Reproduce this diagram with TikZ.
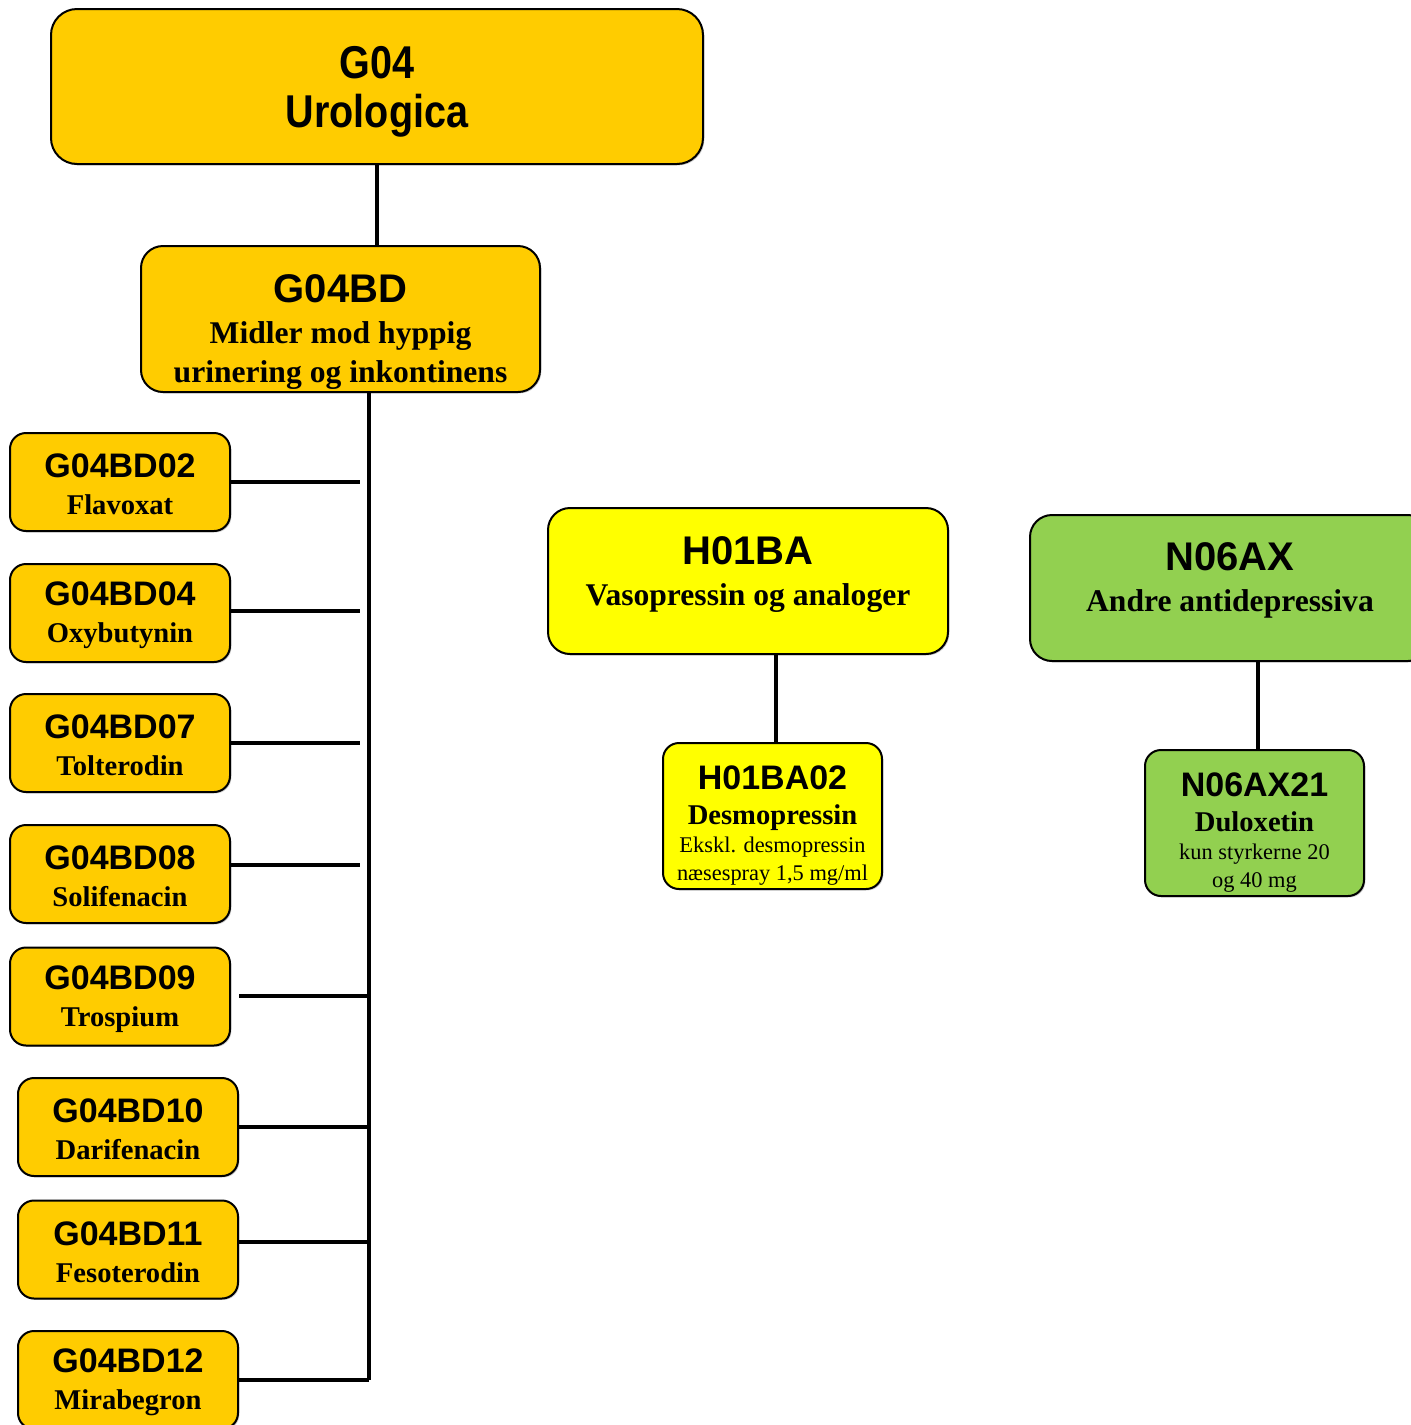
\documentclass[tikz,border=0pt]{standalone}
\usepackage{fontspec}
\setmainfont{Liberation Serif}
\setsansfont{Liberation Sans}
\newfontfamily\narrowsans[FakeStretch=0.86]{Liberation Sans}
\usetikzlibrary{shadows}

\definecolor{atcgold}{HTML}{FFCC00}
\definecolor{atcyellow}{HTML}{FFFF00}
\definecolor{atcgreen}{HTML}{92D050}

\newcommand{\topfont}{\narrowsans\bfseries\fontsize{23pt}{24.5pt}\selectfont}
\newcommand{\groupfont}{\sffamily\bfseries\fontsize{20pt}{21pt}\selectfont}
\newcommand{\groupname}{\rmfamily\bfseries\fontsize{15.8pt}{19.5pt}\selectfont}
\newcommand{\codefont}{\sffamily\bfseries\fontsize{17pt}{18.5pt}\selectfont}
\newcommand{\namefont}{\rmfamily\bfseries\fontsize{14.3pt}{18.5pt}\selectfont}
\newcommand{\notefont}{\rmfamily\fontsize{11.2pt}{14pt}\selectfont}

\begin{document}
\begin{tikzpicture}[x=0.5pt, y=-0.5pt, line join=round,
    box/.style={draw, line width=1pt, align=center, inner sep=0pt,
      drop shadow={shadow xshift=0.7pt, shadow yshift=-0.7pt, fill=black!40}},
    bigbox/.style={box, rounded corners=11pt, minimum width=200pt, minimum height=73pt,
      font=\fontsize{15.8pt}{19.5pt}\selectfont},
    leaf/.style={box, fill=atcgold, rounded corners=8pt, minimum width=110pt, minimum height=49pt,
      font=\fontsize{14.3pt}{18.5pt}\selectfont},
    subleaf/.style={box, rounded corners=8pt, minimum width=109.5pt, minimum height=73pt,
      font=\fontsize{11.2pt}{14pt}\selectfont},
    link/.style={line width=1.6pt}]

  \useasboundingbox (0,0) rectangle (1411,1425);
  \clip (0,0) rectangle (1411,1425);

  % main group
  \node[box, fill=atcgold, rounded corners=13pt, minimum width=326pt, minimum height=77.5pt,
    font=\fontsize{23pt}{24.5pt}\selectfont] (G04) at (377,86.5)
    {{\topfont\rule{0pt}{21.5pt}G04}\\{\topfont Urologica}};
  \node[bigbox, fill=atcgold, minimum width=199.5pt] (G04BD) at (340.5,319)
    {{\groupfont\rule{0pt}{27.3pt}G04BD}\\[1pt]{\groupname Midler mod hyppig}\\{\groupname urinering og inkontinens}};

  % substances
  \foreach \c/\x/\y/\name in {02/120/482/Flavoxat, 04/120/613/Oxybutynin, 07/120/743/Tolterodin,
      08/120/874/Solifenacin, 09/120/996.5/Trospium, 10/128/1127/Darifenacin,
      11/128/1249.5/Fesoterodin, 12/128/1380/Mirabegron}
    \node[leaf] (b\c) at (\x,\y) {{\codefont\rule{0pt}{14.3pt}G04BD\c}\\{\namefont \name}};

  % other groups
  \node[bigbox, fill=atcyellow] (H01BA) at (748,581)
    {{\groupfont H01BA}\\[1pt]{\groupname\rule[-10pt]{0pt}{10pt}Vasopressin og analoger}};
  \node[subleaf, fill=atcyellow] (H01BA02) at (772.5,816)
    {{\codefont\rule{0pt}{21.5pt}H01BA02}\\[3.5pt]{\namefont Desmopressin}\\{\notefont Ekskl. desmopressin}\\{\notefont næsespray 1,5 mg/ml}};

  \node[bigbox, fill=atcgreen] (N06AX) at (1230,588)
    {{\groupfont N06AX}\\[1pt]{\groupname\rule[-10.5pt]{0pt}{10.5pt}Andre antidepressiva}};
  \node[subleaf, fill=atcgreen] (N06AX21) at (1254.5,823)
    {{\codefont\rule{0pt}{21.5pt}N06AX21}\\[3.5pt]{\namefont Duloxetin}\\{\notefont kun styrkerne 20}\\{\notefont og 40 mg}};

  % connectors
  \draw[link] (G04.south) -- (G04.south |- G04BD.north);
  \coordinate (trunk) at (369,1380);
  \draw[link] (G04BD.south -| trunk) -- (trunk);
  \foreach \c/\y in {02/482, 04/611, 07/743, 08/865} {
    \coordinate (e\c) at (360,\y);
    \draw[link] (b\c.east |- e\c) -- (e\c);
  }
  \foreach \c/\y in {10/1127, 11/1242, 12/1380} {
    \coordinate (e\c) at (369,\y);
    \draw[link] (b\c.east |- e\c) -- (e\c);
  }
  \coordinate (e09) at (369,996);
  \draw[link] ([xshift=4pt]b09.east |- e09) -- (e09);

  \draw[link] ([xshift=14pt]H01BA.south) -- ([xshift=14pt]H01BA.south |- H01BA02.north);
  \draw[link] ([xshift=14pt]N06AX.south) -- ([xshift=14pt]N06AX.south |- N06AX21.north);
\end{tikzpicture}
\end{document}
